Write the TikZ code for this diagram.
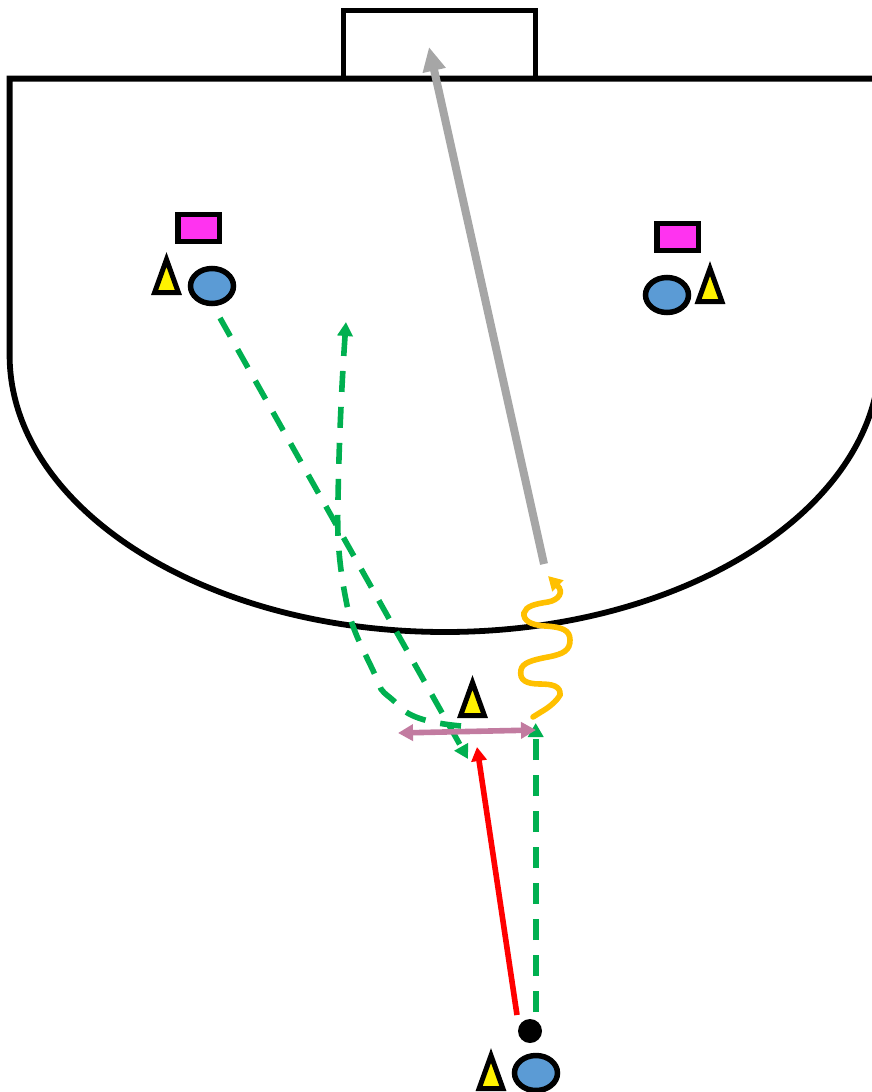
\documentclass[tikz,border=0pt]{standalone}
\usetikzlibrary{arrows.meta,shapes.geometric}
\definecolor{pass}{HTML}{00B050}
\definecolor{shot}{HTML}{A6A6A6}
\definecolor{drib}{HTML}{FFC000}
\definecolor{mauve}{HTML}{C27BA0}
\definecolor{pink}{HTML}{FF33F0}
\definecolor{blue}{HTML}{5B9BD5}
\tikzset{
  court/.style={draw=black,line width=5.8pt,line join=miter},
  player/.style={ellipse,draw=black,line width=5.5pt,fill=blue,minimum width=43pt,minimum height=35pt,inner sep=0pt,outer sep=0pt},
  cone/.style={rectangle,draw=black,line width=5.5pt,fill=pink,minimum width=41.5pt,minimum height=27pt,inner sep=0pt,outer sep=0pt},
  ball/.style={circle,fill=black,minimum size=24pt,inner sep=0pt,outer sep=0pt},
  passline/.style={draw=pass,line width=5.6pt,dash pattern=on 21pt off 15pt,-{Triangle[width=15pt,length=14pt]}},
  shotline/.style={draw=shot,line width=8pt,-{Triangle[width=22pt,length=24pt]}},
  runline/.style={draw=red,line width=5.6pt,-{Triangle[width=15pt,length=14pt]}},
  dribline/.style={draw=drib,line width=5.6pt,line cap=round,-{Triangle[width=15pt,length=14pt]}},
  moveline/.style={draw=mauve,line width=5.6pt,{Triangle[width=16pt,length=15pt]}-{Triangle[width=16pt,length=15pt]}},
  playertri/.pic={
    \draw[black,line width=5pt,fill=yellow,line join=miter,miter limit=10] (-11.9,-2.5) -- (0,-35.5) -- (11.9,-2.5) -- cycle;
  }
}
\begin{document}
\begin{tikzpicture}[x=1pt,y=-1pt]
\useasboundingbox (0,0) rectangle (872,1092);
\begin{scope}
\clip (0,0) rectangle (872,1092);
\draw[court] (880,78.6) -- (9.6,78.6) -- (9.6,355)
  .. controls (9.6,508) and (205,632) .. (445,632)
  .. controls (685,632) and (880,508) .. (880,355);
\draw[court] (343.5,78.6) -- (343.5,10.5) -- (535.5,10.5) -- (535.5,78.6);

\node[cone] (c1) at (198.5,228) {};
\node[cone] (c2) at (677.5,237) {};
\node[player] (p1) at (212,286) {};
\node[player] (p2) at (667,295) {};
\node[player] (p3) at (536,1073) {};
\node[ball] (b) at (530,1031) {};
\pic (t1) at (166.5,295) {playertri};
\pic (t2) at (710,304) {playertri};
\pic (t3) at (472.5,718) {playertri};
\pic (t4) at (491,1091) {playertri};

\coordinate (shotA) at (544,564);
\coordinate (shotB) at (429,47);
\coordinate (runA) at (517,1015);
\coordinate (runB) at (477,747);
\coordinate (ballpass) at (535.7,1012);
\coordinate (meet) at (535.7,723);
\coordinate (p1out) at (220,318);
\coordinate (p1in) at (468,759);
\coordinate (loopA) at (461,726);
\coordinate (loopB) at (346,322);
\coordinate (moveA) at (398,733);
\coordinate (moveB) at (536,730);
\coordinate (dribA) at (533,717);
\coordinate (dribB) at (548,576);

\draw[passline] (p1out) -- (p1in);
\draw[passline] (ballpass) -- (meet);
\draw[passline] (loopA) .. controls (440,724) and (412,720) .. (400,707)
  .. controls (392,698) and (384,694) .. (381,689)
  .. controls (370,660) and (352,635) .. (346,600)
  .. controls (338,560) and (337,530) .. (338,500)
  .. controls (339,440) and (342,380) .. (loopB);
\draw[shotline] (shotA) -- (shotB);
\draw[runline] (runA) -- (runB);
\draw[moveline] (moveA) -- (moveB);
\draw[dribline] (dribA) -- (541,712) .. controls (548,708) and (556,702) .. (560,695)
  .. controls (561,686) and (552,684) .. (540,684)
  .. controls (526,684) and (519,680) .. (521,670)
  .. controls (522,663) and (532,660) .. (548,657)
  .. controls (564,654) and (570,650) .. (570,640)
  .. controls (570,630) and (562,627) .. (545,626)
  .. controls (530,625) and (523,620) .. (524,613)
  .. controls (526,606) and (535,604) .. (548,602)
  .. controls (559,600) and (564,592) .. (dribB);
\end{scope}
\end{tikzpicture}
\end{document}
